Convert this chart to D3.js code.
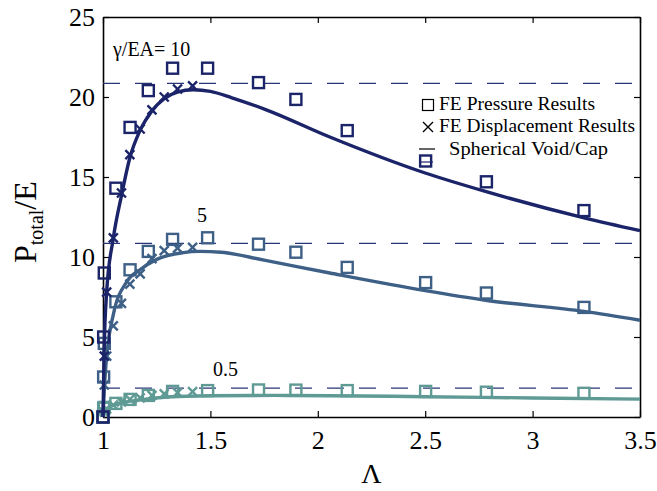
<!DOCTYPE html>
<meta charset="utf-8">
<script src="https://cdn.jsdelivr.net/npm/d3@7/dist/d3.min.js"></script>
<style>
body { margin: 0; background: #fff; }
text { font-family: "Liberation Serif", "Times New Roman", serif; }
</style>
<body>
<script>
var margin = {top: 17, right: 17, bottom: 74, left: 103},
    width = 657 - margin.left - margin.right,
    height = 491 - margin.top - margin.bottom;

// ticks
var xTicks = [1, 1.5, 2, 2.5, 3, 3.5];
var yTicks = [0, 5, 10, 15, 20, 25];

// FE pressure results (squares), same stretch values for all three
var lamP = [1.0, 1.003, 1.006, 1.06, 1.126, 1.211, 1.324, 1.487, 1.724, 1.898, 2.137, 2.502, 2.785, 3.239];
var pres10 = [0, 5.0, 9.0, 14.3, 18.1, 20.4, 21.8, 21.8, 20.9, 19.85, 17.9, 16.0, 14.7, 12.9];
var pres5 = [0, 2.5, 4.6, 7.2, 9.2, 10.35, 11.1, 11.2, 10.8, 10.3, 9.35, 8.4, 7.75, 6.85];
var pres05 = [0, 0.55, 0.6, 0.85, 1.1, 1.35, 1.6, 1.65, 1.69, 1.68, 1.65, 1.6, 1.55, 1.48];

// FE displacement results (crosses)
var lamD = [1.006, 1.017, 1.048, 1.086, 1.125, 1.173, 1.228, 1.285, 1.347, 1.417];
var disp10 = [3.8, 7.8, 11.2, 14.0, 16.4, 18.0, 19.2, 20.0, 20.5, 20.7];
var disp5 = [2.0, 3.8, 5.7, 7.1, 8.3, 8.95, 9.9, 10.4, 10.55, 10.6];
var disp05 = [0.3, 0.5, 0.75, 0.95, 1.1, 1.2, 1.35, 1.45, 1.52, 1.58];

// model curves
var lamC10 = [1, 1.005, 1.017, 1.047, 1.087, 1.125, 1.172, 1.226, 1.285, 1.346, 1.42, 1.5, 1.6, 1.76, 2.056, 2.5, 2.78, 3.24, 3.5];
var curve10 = [0, 4.0, 7.8, 11.1, 13.9, 16.2, 17.9, 19.1, 19.9, 20.3, 20.45, 20.35, 19.95, 19.2, 17.5, 15.25, 14.1, 12.45, 11.65];
var lamC5 = [1, 1.01, 1.02, 1.048, 1.11, 1.172, 1.25, 1.373, 1.45, 1.55, 1.75, 2.056, 2.5, 2.78, 3.24, 3.5];
var curve5 = [0, 2.6, 4.2, 6.4, 8.45, 9.2, 9.85, 10.27, 10.35, 10.3, 9.8, 9.0, 7.9, 7.3, 6.6, 6.05];
var lamC05 = [1, 1.01, 1.03, 1.08, 1.17, 1.3, 1.5, 1.8, 2.056, 2.5, 3.0, 3.5];
var curve05 = [0, 0.35, 0.65, 0.87, 1.06, 1.25, 1.33, 1.35, 1.33, 1.27, 1.19, 1.12];

// spherical void/cap levels
var capLevels = [20.85, 10.85, 1.8];

var navy = "#1b2469", steel = "#3e6087", teal = "#5f9a95";

var svg = d3.select("body").append("svg")
    .attr("width", width + margin.left + margin.right)
    .attr("height", height + margin.top + margin.bottom)
    .append("g")
    .attr("transform", "translate(" + margin.left + "," + margin.top + ")");

var x = d3.scaleLinear().domain([1, 3.5]).range([0, width]);
var y = d3.scaleLinear().domain([0, 25]).range([height, 0]);

var fmt = d3.format("~g");

svg.append("g")
    .attr("transform", "translate(0," + height + ")")
    .call(d3.axisBottom(x).tickValues(xTicks).tickFormat(fmt).tickSizeInner(-6).tickSizeOuter(0).tickPadding(14));
svg.append("g")
    .call(d3.axisLeft(y).tickValues(yTicks).tickFormat(fmt).tickSizeInner(-6).tickSizeOuter(0).tickPadding(8));
svg.append("g")
    .call(d3.axisTop(x).tickValues(xTicks).tickFormat("").tickSizeInner(-6).tickSizeOuter(0));
svg.append("g")
    .attr("transform", "translate(" + width + ",0)")
    .call(d3.axisRight(y).tickValues(yTicks).tickFormat("").tickSizeInner(-6).tickSizeOuter(0));

svg.selectAll(".domain").attr("stroke", "#000").attr("stroke-width", 1.6);
svg.selectAll(".tick line").attr("stroke", "#000").attr("stroke-width", 1.2);
svg.selectAll(".tick text")
    .style("font-family", "'Liberation Serif', serif")
    .style("font-size", "26px")
    .attr("fill", "#000");

// dashed levels
svg.selectAll(".cap")
    .data(capLevels)
    .enter().append("line")
    .attr("x1", x(1)).attr("x2", x(3.5))
    .attr("y1", function(d) { return y(d); })
    .attr("y2", function(d) { return y(d); })
    .attr("stroke", "#2a3577")
    .attr("stroke-width", 1.2)
    .attr("stroke-dasharray", "17,15");

var line = d3.line()
    .x(function(d) { return x(d[0]); })
    .y(function(d) { return y(d[1]); })
    .curve(d3.curveMonotoneX);

var series = [
  {lamC: lamC05, c: curve05, p: pres05, d: disp05, color: teal},
  {lamC: lamC5, c: curve5, p: pres5, d: disp5, color: steel},
  {lamC: lamC10, c: curve10, p: pres10, d: disp10, color: navy}
];

series.forEach(function(s) {
  svg.append("path")
      .datum(s.lamC.map(function(l, i) { return [l, s.c[i]]; }))
      .attr("d", line)
      .attr("fill", "none")
      .attr("stroke", s.color)
      .attr("stroke-width", 3.4);

  svg.selectAll(null)
      .data(lamP.map(function(l, i) { return [l, s.p[i]]; }))
      .enter().append("rect")
      .attr("x", function(d) { return x(d[0]) - 5.5; })
      .attr("y", function(d) { return y(d[1]) - 5.5; })
      .attr("width", 11).attr("height", 11)
      .attr("fill", "none")
      .attr("stroke", s.color)
      .attr("stroke-width", 2.4);

  svg.selectAll(null)
      .data(lamD.map(function(l, i) { return [l, s.d[i]]; }))
      .enter().append("path")
      .attr("d", function(d) {
        var cx = x(d[0]), cy = y(d[1]), r = 4.5;
        return "M" + (cx - r) + "," + (cy - r) + "L" + (cx + r) + "," + (cy + r) +
               "M" + (cx - r) + "," + (cy + r) + "L" + (cx + r) + "," + (cy - r);
      })
      .attr("stroke", s.color)
      .attr("stroke-width", 2.4);
});

// curve labels
svg.append("text").attr("x", 10).attr("y", 39).text("γ/EA= 10").style("font-size", "20px");
svg.append("text").attr("x", 94).attr("y", 205).text("5").style("font-size", "20px");
svg.append("text").attr("x", 110).attr("y", 359).text("0.5").style("font-size", "20px");

// legend
var lg = svg.append("g").attr("transform", "translate(" + (428 - margin.left) + "," + (105 - margin.top) + ")");
lg.append("rect").attr("x", -5.5).attr("y", -5.5).attr("width", 11).attr("height", 11)
    .attr("fill", "none").attr("stroke", "#000").attr("stroke-width", 1.2);
lg.append("path").attr("d", "M-5,17L5,27M-5,27L5,17").attr("stroke", "#000").attr("stroke-width", 1.4);
lg.append("line").attr("x1", -9).attr("x2", 7).attr("y1", 44).attr("y2", 44).attr("stroke", "#000").attr("stroke-width", 1.2);
lg.append("line").attr("x1", -8).attr("x2", 5).attr("y1", 57).attr("y2", 57).attr("stroke", navy).attr("stroke-width", 1.2);
lg.append("text").attr("x", 11).attr("y", 5).text("FE Pressure Results")
    .style("font-size", "19px").attr("textLength", 156).attr("lengthAdjust", "spacingAndGlyphs");
lg.append("text").attr("x", 11).attr("y", 27).text("FE Displacement Results")
    .style("font-size", "19px").attr("textLength", 196).attr("lengthAdjust", "spacingAndGlyphs");
lg.append("text").attr("x", 21).attr("y", 50).text("Spherical Void/Cap")
    .style("font-size", "19px").attr("textLength", 159).attr("lengthAdjust", "spacingAndGlyphs");

// axis titles
svg.append("text")
    .attr("x", width / 2)
    .attr("y", height + 66)
    .style("text-anchor", "middle")
    .style("font-size", "28px")
    .text("Λ");

var yl = svg.append("text")
    .attr("transform", "translate(" + (36 - margin.left) + "," + (263 - margin.top) + ") rotate(-90)")
    .style("font-size", "32px");
yl.append("tspan").text("P");
yl.append("tspan").attr("dy", 7).style("font-size", "20px").text("total");
yl.append("tspan").attr("dy", -7).text("/E");
</script>
</body>
</html>
